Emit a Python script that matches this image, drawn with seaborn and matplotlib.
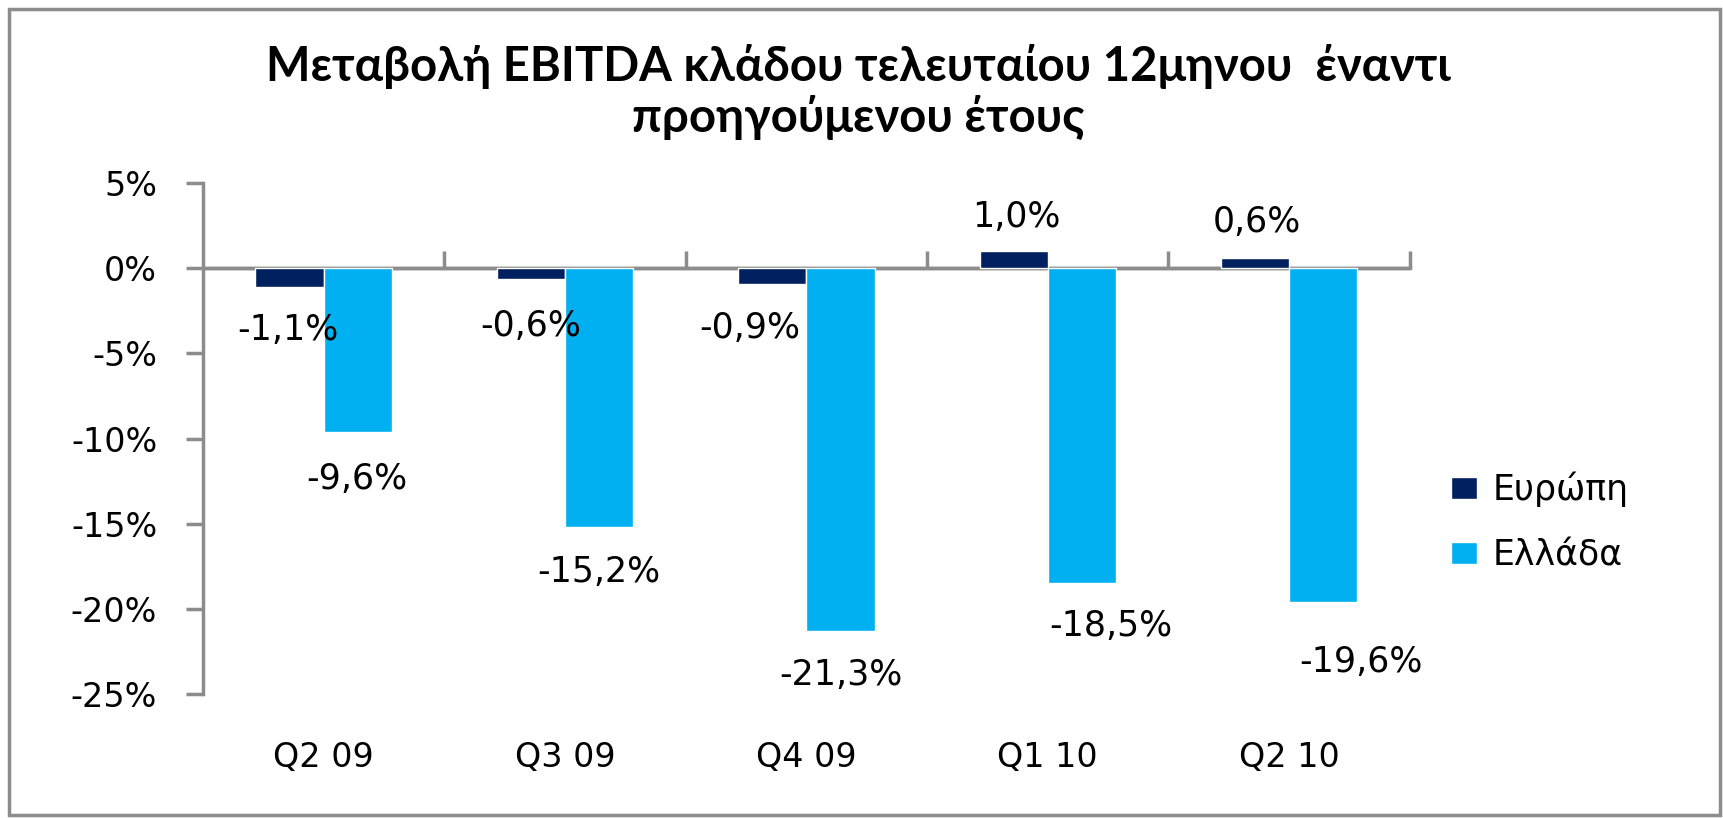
import matplotlib
matplotlib.use("Agg")
import matplotlib.pyplot as plt
import seaborn as sns
import pandas as pd
from matplotlib.patches import Rectangle
from matplotlib.ticker import FuncFormatter

# ---- data ----
quarters = ["Q2 09", "Q3 09", "Q4 09", "Q1 10", "Q2 10"]
europe = [-1.1, -0.6, -0.9, 1.0, 0.6]
greece = [-9.6, -15.2, -21.3, -18.5, -19.6]
series_names = ["Ευρώπη", "Ελλάδα"]
title_text = "Μεταβολή EBITDA κλάδου τελευταίου 12μηνου  έναντι\nπροηγούμενου έτους"
y_ticks = [5, 0, -5, -10, -15, -20, -25]

df = pd.DataFrame({
    "quarter": quarters * 2,
    "value": europe + greece,
    "region": [series_names[0]] * len(quarters) + [series_names[1]] * len(quarters),
})

# ---- style ----
colors = ["#002060", "#00B0F0"]
gray = "#8C8C8C"
sns.set_theme(style="white")
plt.rcParams["font.family"] = ["DejaVu Sans"]
plt.rcParams["text.color"] = "black"
plt.rcParams["xtick.labelcolor"] = "black"
plt.rcParams["ytick.labelcolor"] = "black"

fig = plt.figure(figsize=(17.23, 8.18), dpi=100)
ax = fig.add_axes([0.1178, 0.1516, 0.7004, 0.6244])

sns.barplot(data=df, x="quarter", y="value", hue="region", order=quarters,
            hue_order=series_names, palette=colors, saturation=1,
            width=0.565, gap=0, ax=ax, legend=True)

ax.set_ylim(-25, 5)
ax.set_xlim(-0.5, len(quarters) - 0.5)
ax.set_yticks(y_ticks)
ax.yaxis.set_major_formatter(FuncFormatter(lambda v, p: f"{int(v)}%"))
ax.tick_params(axis="y", direction="out", length=12, width=2.5, color=gray,
               labelsize=24, pad=21, left=True)
ax.tick_params(axis="x", length=0, labelsize=24, pad=34)
ax.set_xlabel("")
ax.set_ylabel("")

for s in ["top", "right", "bottom"]:
    ax.spines[s].set_visible(False)
ax.spines["left"].set_color(gray)
ax.spines["left"].set_linewidth(2.5)

# zero line with category-boundary ticks
ax.axhline(0, color=gray, linewidth=2.5, zorder=0.5)
zero_frac = (0 - (-25)) / 30
sec = ax.secondary_xaxis(zero_frac)
sec.set_xticks([i + 0.5 for i in range(len(quarters))])
sec.set_xticklabels([])
sec.tick_params(axis="x", direction="out", length=12, width=2.5, color=gray)
for sp in sec.spines.values():
    sp.set_color(gray)
    sp.set_linewidth(2.5)

# data labels: offsets in points (dx, distance from bar end)
eu_dx = [-1.5, 0, -16, 2, 1]
eu_dy = [31, 34, 32, 25, 26]
gr_dx = [-1, 0, 0, 21, 27]
gr_dy = [34, 32, 32, 31, 43]
offsets = [(eu_dx, eu_dy), (gr_dx, gr_dy)]
for container, (dxs, dys) in zip(ax.containers, offsets):
    for bar, dx, dy in zip(container, dxs, dys):
        val = bar.get_height()
        x = bar.get_x() + bar.get_width() / 2
        sign = 1 if val >= 0 else -1
        ax.annotate(f"{val:.1f}%".replace(".", ","), xy=(x, val),
                    xytext=(dx, sign * dy), textcoords="offset points",
                    ha="center", va="center", fontsize=25, color="black")

# legend
ax.legend(loc="center left", bbox_to_anchor=(1.034, 0.337), frameon=False,
          fontsize=25, handlelength=0.75, handleheight=0.58, handletextpad=0.46,
          labelspacing=0.9, borderpad=0, borderaxespad=0)

# title
fig.text(0.498, 0.8875, title_text, ha="center", va="center", fontsize=34,
         fontweight="bold", family=["Lato", "DejaVu Sans"], linespacing=1.17,
         color="black")

# figure frame
fig.patches.append(Rectangle((0.005, 0.004), 0.993, 0.985, transform=fig.transFigure,
                             fill=False, edgecolor=gray, linewidth=2.5))

fig.savefig("out.png", dpi=100)
